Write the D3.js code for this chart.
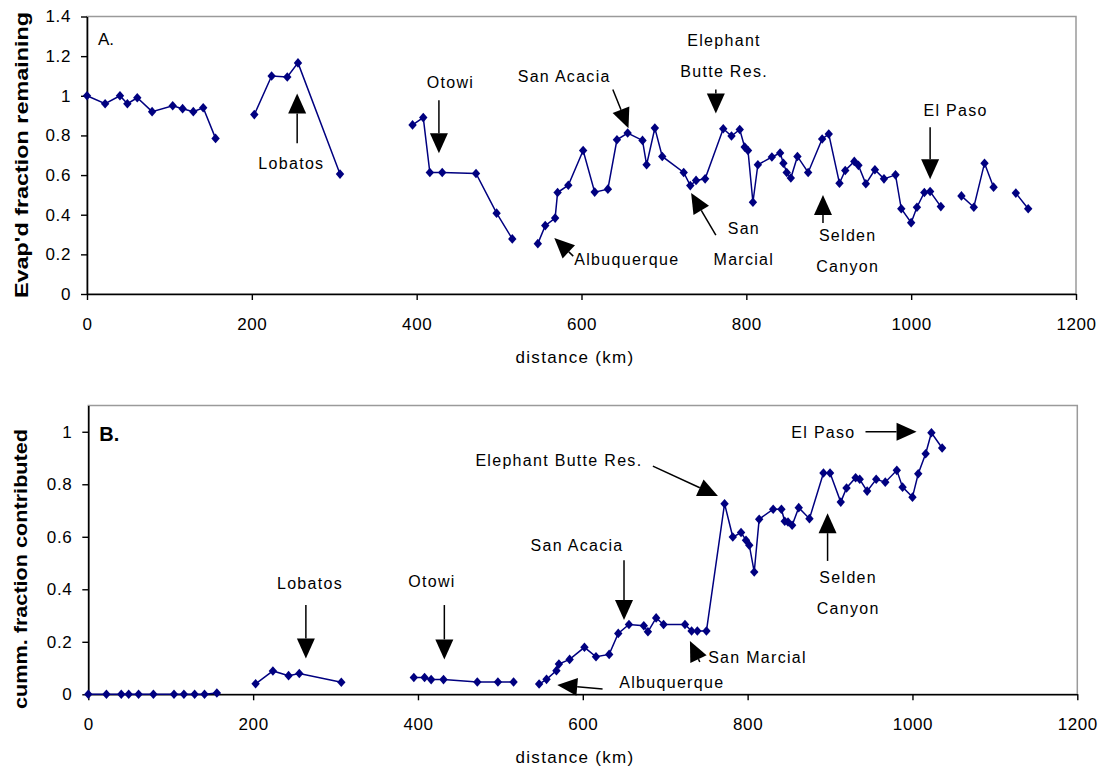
<!DOCTYPE html>
<html>
<head>
<meta charset="utf-8">
<script src="https://cdn.jsdelivr.net/npm/d3@7"></script>
<style>
  body { margin: 0; background: #fff; }
  svg { display: block; font-family: "Liberation Sans", Arial, sans-serif; }
  .tick text { font-size: 17px; letter-spacing: 0.6px; fill: #000; }
  .note { font-size: 16px; letter-spacing: 1.3px; fill: #000; }
</style>
</head>
<body>
<svg width="1102" height="773"></svg>
<script>
// distance along the river (km); null marks a break in the line
var distanceKm = [
  0, 22, 40, 49, 61, 79, 104, 116, 129, 141, 156, null,
  203, 224, 243, 256, 307, null,
  395, 408, 416, 431, 472, 497, 516, null,
  547, 556, 568, 571, 584, 602, 616, 632, 643, 656, 674, 679, 689, 698, 724, 732, 739, 750,
  772, 782, 792, 798, 802, 808, 814, 831, 841, 845, 849, 854, 862, 875, 892, 900,
  913, 920, 931, 936, 945, 956, 967, 981, 988, 1000, 1007, 1016, 1023, 1036, null,
  1061, 1076, 1089, 1100, null,
  1127, 1142
];

// panel A: evaporated fraction remaining
var evapRemaining = [
  1.00, 0.96, 1.00, 0.96, 0.99, 0.92, 0.95, 0.935, 0.92, 0.94, 0.785, null,
  0.905, 1.10, 1.095, 1.166, 0.605, null,
  0.853, 0.89, 0.613, 0.613, 0.608, 0.408, 0.278, null,
  0.254, 0.345, 0.383, 0.512, 0.549, 0.724, 0.514, 0.529, 0.778, 0.812, 0.775, 0.652, 0.837, 0.694, 0.613, 0.547, 0.573, 0.581,
  0.834, 0.797, 0.83, 0.741, 0.724, 0.463, 0.652, 0.691, 0.711, 0.66, 0.613, 0.585, 0.694, 0.613, 0.782, 0.807,
  0.559, 0.623, 0.669, 0.649, 0.556, 0.627, 0.581, 0.601, 0.43, 0.36, 0.438, 0.512, 0.517, 0.441, null,
  0.495, 0.438, 0.66, 0.539, null,
  0.509, 0.43
];

// panel B: cumulative fraction contributed
var cummContributed = [
  0, 0, 0, 0, 0, 0, 0, 0, 0, 0, 0.005, null,
  0.04, 0.089, 0.071, 0.079, 0.046, null,
  0.064, 0.064, 0.056, 0.056, 0.047, 0.047, 0.047, null,
  0.039, 0.057, 0.09, 0.115, 0.133, 0.179, 0.143, 0.152, 0.232, 0.266, 0.261, 0.238, 0.291, 0.266, 0.266, 0.241, 0.241, 0.241,
  0.726, 0.599, 0.616, 0.587, 0.568, 0.466, 0.667, 0.705, 0.705, 0.659, 0.656, 0.644, 0.711, 0.669, 0.843, 0.843,
  0.732, 0.786, 0.825, 0.819, 0.774, 0.819, 0.808, 0.853, 0.789, 0.751, 0.84, 0.916, 0.996, 0.938, null,
  null, null, null, null, null,
  null, null
];

var xTicks = [0, 200, 400, 600, 800, 1000, 1200];
var yTicksA = [0, 0.2, 0.4, 0.6, 0.8, 1, 1.2, 1.4];
var yTicksB = [0, 0.2, 0.4, 0.6, 0.8, 1];

// annotations (placed in data units: km, value)
var notesA = [
  { lines: ['Lobatos'], at: [248, 0.66] },
  { lines: ['Otowi'], at: [441, 1.068] },
  { lines: ['San Acacia'], at: [579, 1.098] },
  { lines: ['Elephant', 'Butte Res.'], at: [773, 1.279] },
  { lines: ['San', 'Marcial'], at: [797, 0.332] },
  { lines: ['Albuquerque'], at: [655, 0.176] },
  { lines: ['Selden', 'Canyon'], at: [923, 0.297] },
  { lines: ['El Paso'], at: [1054, 0.927] }
];
var arrowsA = [
  { from: [255, 0.76], to: [255, 1.012] },
  { from: [427, 0.977], to: [427, 0.71] },
  { from: [638, 1.032], to: [657, 0.836] },
  { from: [763, 1.032], to: [763, 0.911] },
  { from: [763, 0.297], to: [733, 0.509] },
  { from: [590, 0.191], to: [567, 0.282] },
  { from: [893, 0.358], to: [893, 0.5] },
  { from: [1023, 0.841], to: [1023, 0.579] }
];
var notesB = [
  { lines: ['Lobatos'], at: [269, 0.424] },
  { lines: ['Otowi'], at: [417, 0.43] },
  { lines: ['Elephant Butte Res.'], at: [571, 0.892] },
  { lines: ['San Acacia'], at: [593, 0.569] },
  { lines: ['San Marcial'], at: [812, 0.142] },
  { lines: ['Albuquerque'], at: [708, 0.047] },
  { lines: ['El Paso'], at: [892, 1.0] },
  { lines: ['Selden', 'Canyon'], at: [922, 0.444] }
];
var arrowsB = [
  { from: [264, 0.34], to: [264, 0.136] },
  { from: [432, 0.34], to: [432, 0.133] },
  { from: [685, 0.869], to: [764, 0.755] },
  { from: [650, 0.511], to: [650, 0.283] },
  { from: [742, 0.123], to: [730, 0.203] },
  { from: [624, 0.02], to: [569, 0.035] },
  { from: [943, 1.0], to: [1005, 1.0] },
  { from: [897, 0.508], to: [897, 0.69] }
];

var svg = d3.select('svg');
var navy = '#000080';

drawPanel({
  left: 87, top: 16.5, width: 989, height: 277.5,
  yMax: 1.4, yTicks: yTicksA, values: evapRemaining,
  title: "Evap'd fraction remaining", titleX: 28, titleY: 155, titleLen: 286,
  tag: 'A.', tagBold: false, notes: notesA, arrows: arrowsA,
  xTitleY: 363
});

drawPanel({
  left: 88.3, top: 405.5, width: 989, height: 288.8,
  yMax: 1.1, yTicks: yTicksB, values: cummContributed,
  title: 'cumm. fraction contributed', titleX: 27, titleY: 569, titleLen: 280,
  tag: 'B.', tagBold: true, notes: notesB, arrows: arrowsB,
  xTitleY: 763
});

function drawPanel(p) {
  var x = d3.scaleLinear().domain([0, 1200]).range([0, p.width]);
  var y = d3.scaleLinear().domain([0, p.yMax]).range([p.height, 0]);

  var g = svg.append('g')
    .attr('transform', 'translate(' + p.left + ',' + p.top + ')');

  // plot frame
  g.append('rect')
    .attr('width', p.width)
    .attr('height', p.height)
    .attr('fill', 'none')
    .attr('stroke', '#9a9a9a')
    .attr('stroke-width', 1.5);

  // axes
  var xAxis = g.append('g')
    .attr('transform', 'translate(0,' + p.height + ')')
    .call(d3.axisBottom(x).tickValues(xTicks).tickSize(6).tickSizeOuter(0).tickPadding(18)
      .tickFormat(d3.format('d')));
  var yAxis = g.append('g')
    .call(d3.axisLeft(y).tickValues(p.yTicks).tickSize(6).tickSizeOuter(0).tickPadding(10)
      .tickFormat(function (d) { return String(+d.toFixed(1)); }));
  [xAxis, yAxis].forEach(function (a) {
    a.attr('font-family', null).attr('font-size', null);
    a.select('.domain').attr('stroke', '#000').attr('stroke-width', 1.6);
    a.selectAll('.tick line').attr('stroke', '#000').attr('stroke-width', 1.4);
  });

  // data
  var rows = distanceKm.map(function (km, i) {
    return { km: km, v: p.values[i] };
  });
  var ok = function (d) { return d.km != null && d.v != null; };

  var line = d3.line()
    .defined(ok)
    .x(function (d) { return x(d.km); })
    .y(function (d) { return y(d.v); });

  g.append('path')
    .datum(rows)
    .attr('d', line)
    .attr('fill', 'none')
    .attr('stroke', navy)
    .attr('stroke-width', 1.5);

  g.selectAll('.pt')
    .data(rows.filter(ok))
    .enter()
    .append('path')
    .attr('class', 'pt')
    .attr('d', 'M0,-4.8L4.2,0L0,4.8L-4.2,0Z')
    .attr('fill', navy)
    .attr('transform', function (d) { return 'translate(' + x(d.km) + ',' + y(d.v) + ')'; });

  // panel tag
  g.append('text')
    .attr('x', 11)
    .attr('y', p.tagBold ? 35 : 28)
    .attr('font-size', p.tagBold ? 20 : 17)
    .attr('font-weight', p.tagBold ? 'bold' : 'normal')
    .text(p.tag);

  // annotations
  p.notes.forEach(function (n) {
    n.lines.forEach(function (s, i) {
      g.append('text')
        .attr('class', 'note')
        .attr('x', x(n.at[0]))
        .attr('y', y(n.at[1]) + i * 31)
        .attr('dy', '0.36em')
        .attr('text-anchor', 'middle')
        .text(s);
    });
  });

  p.arrows.forEach(function (a) {
    arrow(g, x(a.from[0]), y(a.from[1]), x(a.to[0]), y(a.to[1]));
  });

  // axis titles
  svg.append('text')
    .attr('transform', 'translate(' + p.titleX + ',' + p.titleY + ') rotate(-90)')
    .attr('text-anchor', 'middle')
    .attr('font-size', 18)
    .attr('font-weight', 'bold')
    .attr('textLength', p.titleLen)
    .attr('lengthAdjust', 'spacingAndGlyphs')
    .text(p.title);

  svg.append('text')
    .attr('x', 575)
    .attr('y', p.xTitleY)
    .attr('text-anchor', 'middle')
    .attr('font-size', 17)
    .attr('letter-spacing', 1.3)
    .text('distance (km)');
}

// Draw a black arrow with a filled triangular head:
function arrow(g, x1, y1, x2, y2) {
  var dx = x2 - x1, dy = y2 - y1;
  var len = Math.sqrt(dx * dx + dy * dy);
  var ux = dx / len, uy = dy / len;
  var head = Math.min(20, len);
  var bx = x2 - ux * head, by = y2 - uy * head;
  var hw = 9;

  if (len > head) {
    g.append('line')
      .attr('x1', x1).attr('y1', y1)
      .attr('x2', bx).attr('y2', by)
      .attr('stroke', '#000')
      .attr('stroke-width', 1.5);
  }
  g.append('path')
    .attr('d', 'M' + x2 + ',' + y2 +
      'L' + (bx - uy * hw) + ',' + (by + ux * hw) +
      'L' + (bx + uy * hw) + ',' + (by - ux * hw) + 'Z')
    .attr('fill', '#000');
}
</script>
</body>
</html>
